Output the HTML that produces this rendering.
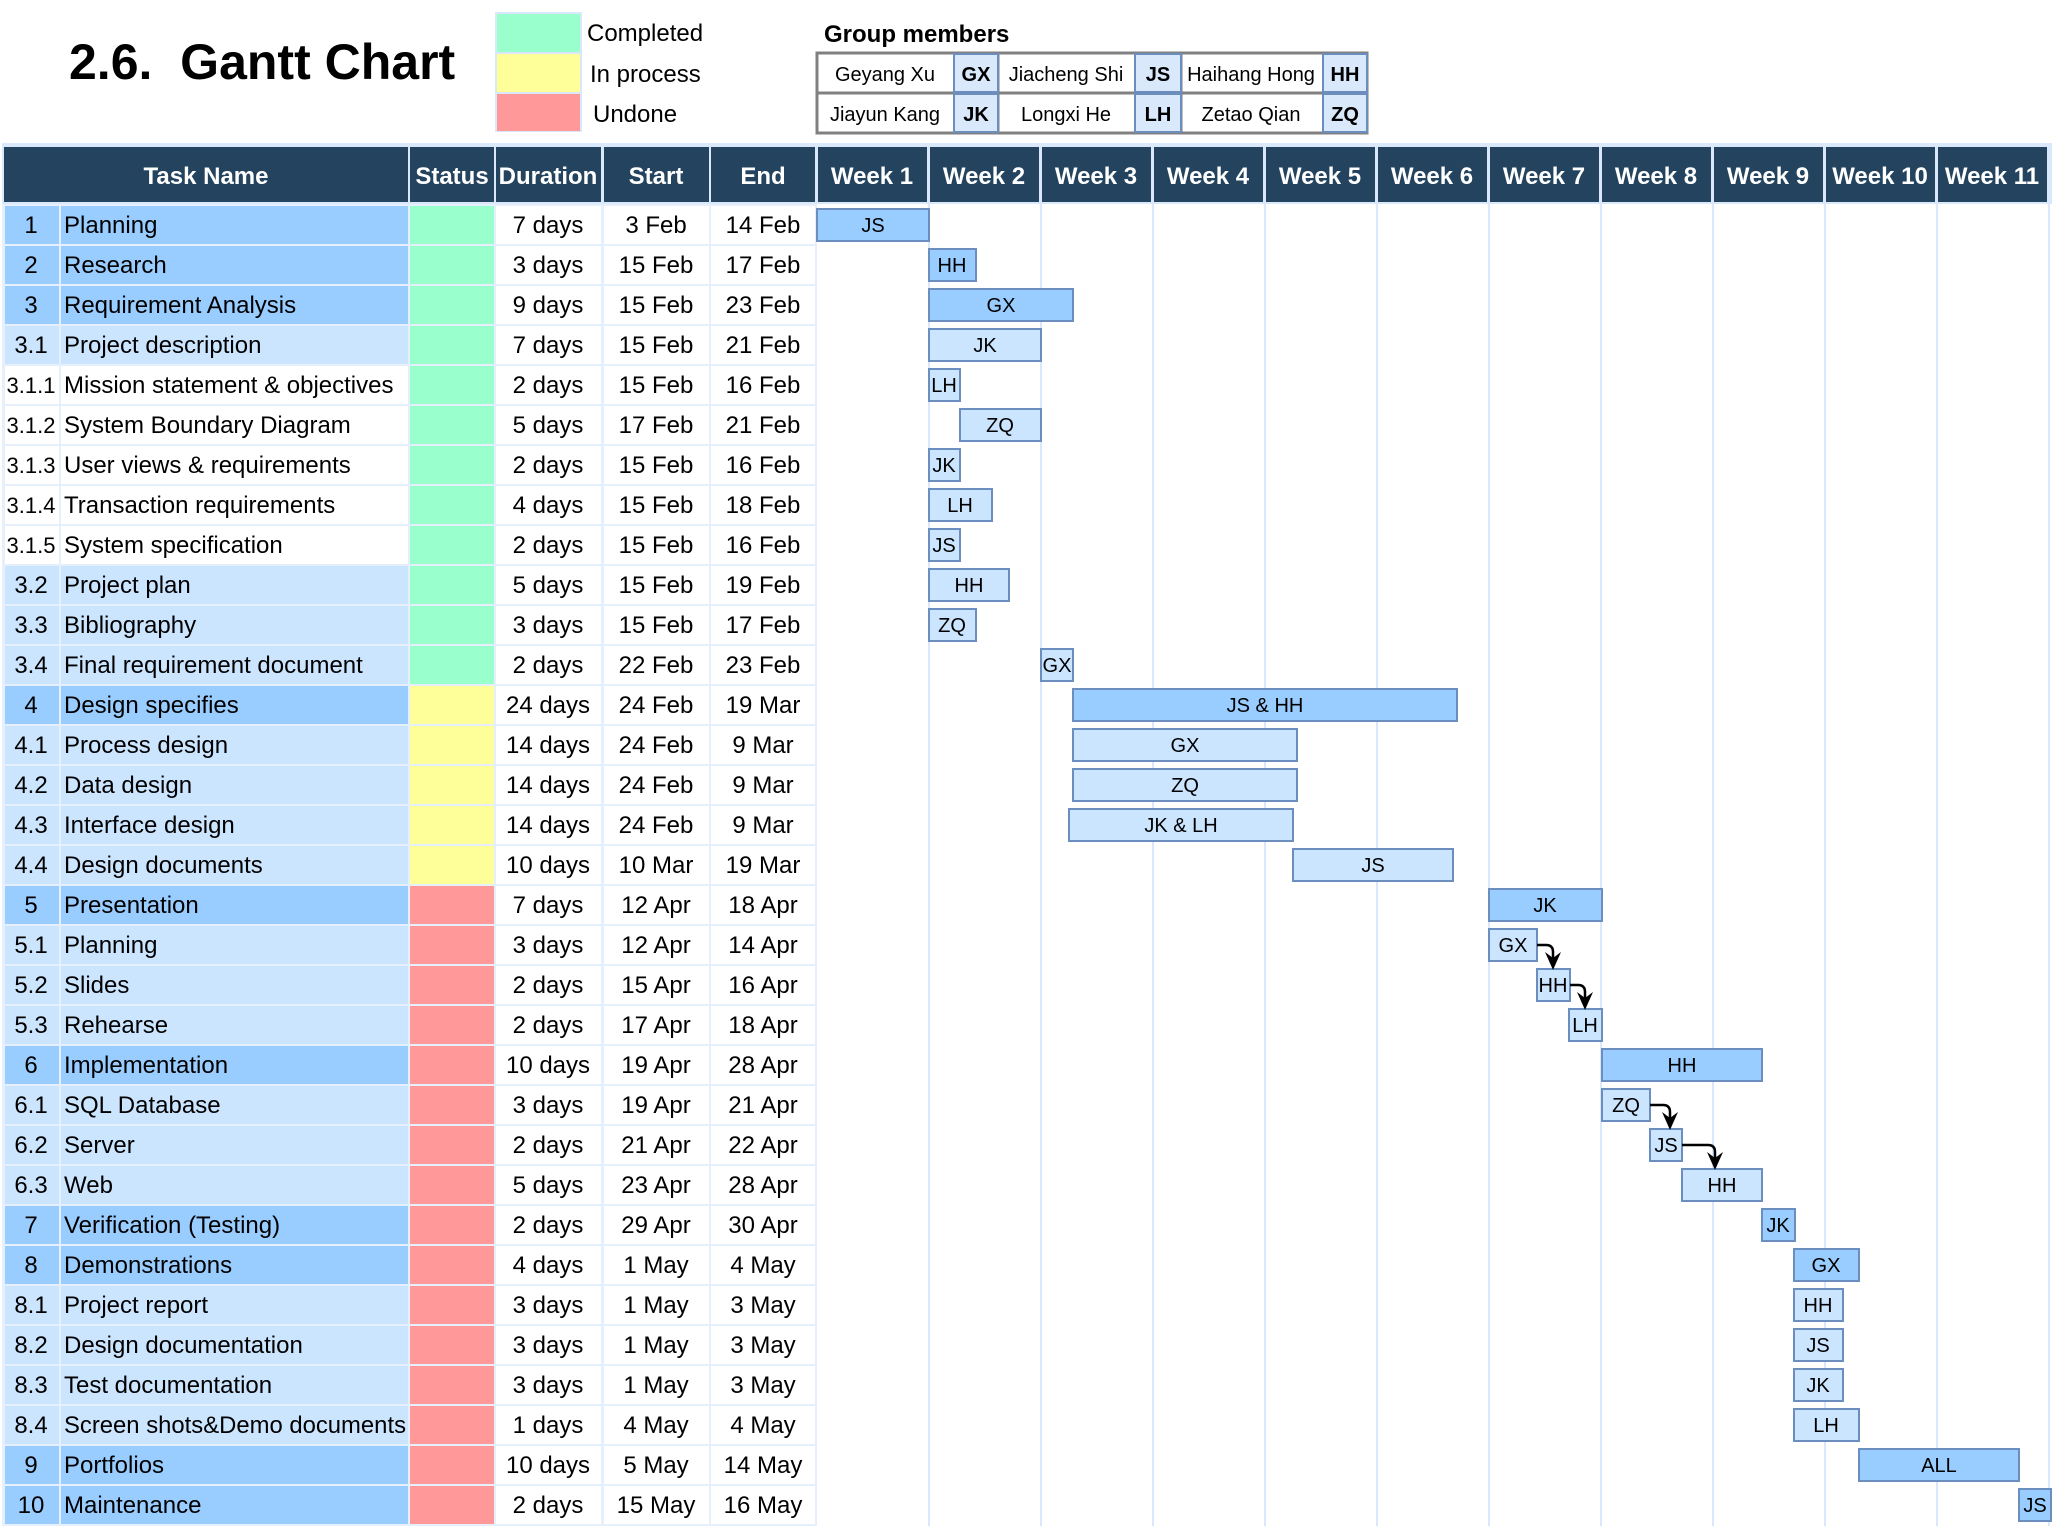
<!DOCTYPE html>
<html><head><meta charset="utf-8"><style>
html,body{margin:0;padding:0;background:#fff}
svg{display:block;font-family:"Liberation Sans",Arial,sans-serif}
.D{fill:#99ccff}.L{fill:#cce5ff}.W{fill:#fff}.g{fill:#99ffcc}.y{fill:#ffff99}.r{fill:#ff9999}
.h{fill:#23435e}
text{font-size:24px;fill:#000}
.c{text-anchor:middle}
.ht{font-weight:bold;fill:#fff;text-anchor:middle}
.bd{fill:#99ccff;stroke:#6c8ebf;stroke-width:2}
.bl{fill:#cce5ff;stroke:#6c8ebf;stroke-width:2}
.b{font-size:20px;text-anchor:middle}
.m{font-size:20px;text-anchor:middle}
.vl{stroke:#dae8fc;stroke-width:2}
</style></head><body>
<svg width="2054" height="1526" viewBox="0 0 2054 1526" xmlns="http://www.w3.org/2000/svg">

<!-- title -->
<text x="69" y="79" style="font-size:50px;font-weight:bold">2.6.&#160; Gantt Chart</text>
<!-- legend -->
<rect x="495" y="12" width="87" height="120" fill="#dae8fc"/>
<rect x="497" y="14" width="83" height="38" class="g"/>
<rect x="497" y="54" width="83" height="38" class="y"/>
<rect x="497" y="94" width="83" height="37" class="r"/>
<text x="587" y="41">Completed</text>
<text x="590" y="82">In process</text>
<text x="593" y="122">Undone</text>
<!-- group members -->
<text x="824" y="42" style="font-weight:bold">Group members</text>
<rect x="817" y="53" width="550" height="80" fill="#fff" stroke="#808080" stroke-width="3"/>
<line x1="817" y1="93" x2="1367" y2="93" stroke="#808080" stroke-width="3"/>
<line x1="998" y1="53" x2="998" y2="133" stroke="#808080" stroke-width="3"/>
<line x1="1181" y1="53" x2="1181" y2="133" stroke="#808080" stroke-width="3"/>
<rect x="954" y="54" width="44" height="38" fill="#dae8fc" stroke="#6c8ebf" stroke-width="2"/>
<rect x="954" y="94" width="44" height="38" fill="#dae8fc" stroke="#6c8ebf" stroke-width="2"/>
<rect x="1135" y="54" width="46" height="38" fill="#dae8fc" stroke="#6c8ebf" stroke-width="2"/>
<rect x="1135" y="94" width="46" height="38" fill="#dae8fc" stroke="#6c8ebf" stroke-width="2"/>
<rect x="1323" y="54" width="44" height="38" fill="#dae8fc" stroke="#6c8ebf" stroke-width="2"/>
<rect x="1323" y="94" width="44" height="38" fill="#dae8fc" stroke="#6c8ebf" stroke-width="2"/>
<text x="885" y="81" class="m">Geyang Xu</text><text x="976" y="81" class="m" style="font-weight:bold">GX</text>
<text x="1066" y="81" class="m">Jiacheng Shi</text><text x="1158" y="81" class="m" style="font-weight:bold">JS</text>
<text x="1251" y="81" class="m">Haihang Hong</text><text x="1345" y="81" class="m" style="font-weight:bold">HH</text>
<text x="885" y="121" class="m">Jiayun Kang</text><text x="976" y="121" class="m" style="font-weight:bold">JK</text>
<text x="1066" y="121" class="m">Longxi He</text><text x="1158" y="121" class="m" style="font-weight:bold">LH</text>
<text x="1251" y="121" class="m">Zetao Qian</text><text x="1345" y="121" class="m" style="font-weight:bold">ZQ</text>

<!-- table bg -->
<rect x="2" y="143" width="2050" height="1383" fill="#dae8fc"/>
<rect x="817" y="204" width="1235" height="1322" fill="#fff"/>
<rect x="2" y="204" width="815" height="1322" fill="#e6f0fc"/>
<!-- header -->
<rect x="4" y="147" width="404" height="55" class="h"/><text x="206" y="184" class="ht">Task Name</text>
<rect x="410" y="147" width="84" height="55" class="h"/><text x="452" y="184" class="ht">Status</text>
<rect x="496" y="147" width="105" height="55" class="h"/><text x="548" y="184" class="ht">Duration</text>
<rect x="604" y="147" width="105" height="55" class="h"/><text x="656" y="184" class="ht">Start</text>
<rect x="711" y="147" width="104" height="55" class="h"/><text x="763" y="184" class="ht">End</text>
<rect x="818" y="147" width="109" height="55" class="h"/><text x="872" y="184" class="ht">Week 1</text>
<rect x="930" y="147" width="109" height="55" class="h"/><text x="984" y="184" class="ht">Week 2</text>
<rect x="1042" y="147" width="109" height="55" class="h"/><text x="1096" y="184" class="ht">Week 3</text>
<rect x="1154" y="147" width="109" height="55" class="h"/><text x="1208" y="184" class="ht">Week 4</text>
<rect x="1266" y="147" width="109" height="55" class="h"/><text x="1320" y="184" class="ht">Week 5</text>
<rect x="1378" y="147" width="109" height="55" class="h"/><text x="1432" y="184" class="ht">Week 6</text>
<rect x="1490" y="147" width="109" height="55" class="h"/><text x="1544" y="184" class="ht">Week 7</text>
<rect x="1602" y="147" width="109" height="55" class="h"/><text x="1656" y="184" class="ht">Week 8</text>
<rect x="1714" y="147" width="109" height="55" class="h"/><text x="1768" y="184" class="ht">Week 9</text>
<rect x="1826" y="147" width="109" height="55" class="h"/><text x="1880" y="184" class="ht">Week 10</text>
<rect x="1938" y="147" width="109" height="55" class="h"/><text x="1992" y="184" class="ht">Week 11</text>
<!-- week grid lines -->
<g class="vl">
<line x1="929" y1="204" x2="929" y2="1526"/><line x1="1041" y1="204" x2="1041" y2="1526"/><line x1="1153" y1="204" x2="1153" y2="1526"/><line x1="1265" y1="204" x2="1265" y2="1526"/><line x1="1377" y1="204" x2="1377" y2="1526"/><line x1="1489" y1="204" x2="1489" y2="1526"/><line x1="1601" y1="204" x2="1601" y2="1526"/><line x1="1713" y1="204" x2="1713" y2="1526"/><line x1="1825" y1="204" x2="1825" y2="1526"/><line x1="1937" y1="204" x2="1937" y2="1526"/><line x1="2049" y1="204" x2="2049" y2="1526"/>
</g>

<!-- rows -->
<g transform="translate(0,205)"><rect x="5" y="1" width="54" height="38" class="D"/><rect x="61" y="1" width="347" height="38" class="D"/><rect x="410" y="1" width="84" height="38" class="g"/><rect x="496" y="1" width="105" height="38" class="W"/><rect x="604" y="1" width="105" height="38" class="W"/><rect x="711" y="1" width="104" height="38" class="W"/>
<text x="31" y="28" class="c">1</text><text x="64" y="28">Planning</text><text x="548" y="28" class="c">7 days</text><text x="656" y="28" class="c">3 Feb</text><text x="763" y="28" class="c">14 Feb</text>
<rect x="817" y="4" width="112" height="32" class="bd"/><text x="873" y="27" class="b">JS</text></g>

<g transform="translate(0,245)"><rect x="5" y="1" width="54" height="38" class="D"/><rect x="61" y="1" width="347" height="38" class="D"/><rect x="410" y="1" width="84" height="38" class="g"/><rect x="496" y="1" width="105" height="38" class="W"/><rect x="604" y="1" width="105" height="38" class="W"/><rect x="711" y="1" width="104" height="38" class="W"/>
<text x="31" y="28" class="c">2</text><text x="64" y="28">Research</text><text x="548" y="28" class="c">3 days</text><text x="656" y="28" class="c">15 Feb</text><text x="763" y="28" class="c">17 Feb</text>
<rect x="929" y="4" width="47" height="32" class="bd"/><text x="952" y="27" class="b">HH</text></g>

<g transform="translate(0,285)"><rect x="5" y="1" width="54" height="38" class="D"/><rect x="61" y="1" width="347" height="38" class="D"/><rect x="410" y="1" width="84" height="38" class="g"/><rect x="496" y="1" width="105" height="38" class="W"/><rect x="604" y="1" width="105" height="38" class="W"/><rect x="711" y="1" width="104" height="38" class="W"/>
<text x="31" y="28" class="c">3</text><text x="64" y="28">Requirement Analysis</text><text x="548" y="28" class="c">9 days</text><text x="656" y="28" class="c">15 Feb</text><text x="763" y="28" class="c">23 Feb</text>
<rect x="929" y="4" width="144" height="32" class="bd"/><text x="1001" y="27" class="b">GX</text></g>

<g transform="translate(0,325)"><rect x="5" y="1" width="54" height="38" class="L"/><rect x="61" y="1" width="347" height="38" class="L"/><rect x="410" y="1" width="84" height="38" class="g"/><rect x="496" y="1" width="105" height="38" class="W"/><rect x="604" y="1" width="105" height="38" class="W"/><rect x="711" y="1" width="104" height="38" class="W"/>
<text x="31" y="28" class="c">3.1</text><text x="64" y="28">Project description</text><text x="548" y="28" class="c">7 days</text><text x="656" y="28" class="c">15 Feb</text><text x="763" y="28" class="c">21 Feb</text>
<rect x="929" y="4" width="112" height="32" class="bl"/><text x="985" y="27" class="b">JK</text></g>

<g transform="translate(0,365)"><rect x="5" y="1" width="54" height="38" class="W"/><rect x="61" y="1" width="347" height="38" class="W"/><rect x="410" y="1" width="84" height="38" class="g"/><rect x="496" y="1" width="105" height="38" class="W"/><rect x="604" y="1" width="105" height="38" class="W"/><rect x="711" y="1" width="104" height="38" class="W"/>
<text x="31" y="28" class="c" style="font-size:22px">3.1.1</text><text x="64" y="28">Mission statement &amp; objectives</text><text x="548" y="28" class="c">2 days</text><text x="656" y="28" class="c">15 Feb</text><text x="763" y="28" class="c">16 Feb</text>
<rect x="929" y="4" width="31" height="32" class="bl"/><text x="944" y="27" class="b">LH</text></g>

<g transform="translate(0,405)"><rect x="5" y="1" width="54" height="38" class="W"/><rect x="61" y="1" width="347" height="38" class="W"/><rect x="410" y="1" width="84" height="38" class="g"/><rect x="496" y="1" width="105" height="38" class="W"/><rect x="604" y="1" width="105" height="38" class="W"/><rect x="711" y="1" width="104" height="38" class="W"/>
<text x="31" y="28" class="c" style="font-size:22px">3.1.2</text><text x="64" y="28">System Boundary Diagram</text><text x="548" y="28" class="c">5 days</text><text x="656" y="28" class="c">17 Feb</text><text x="763" y="28" class="c">21 Feb</text>
<rect x="960" y="4" width="81" height="32" class="bl"/><text x="1000" y="27" class="b">ZQ</text></g>

<g transform="translate(0,445)"><rect x="5" y="1" width="54" height="38" class="W"/><rect x="61" y="1" width="347" height="38" class="W"/><rect x="410" y="1" width="84" height="38" class="g"/><rect x="496" y="1" width="105" height="38" class="W"/><rect x="604" y="1" width="105" height="38" class="W"/><rect x="711" y="1" width="104" height="38" class="W"/>
<text x="31" y="28" class="c" style="font-size:22px">3.1.3</text><text x="64" y="28">User views &amp; requirements</text><text x="548" y="28" class="c">2 days</text><text x="656" y="28" class="c">15 Feb</text><text x="763" y="28" class="c">16 Feb</text>
<rect x="929" y="4" width="31" height="32" class="bl"/><text x="944" y="27" class="b">JK</text></g>

<g transform="translate(0,485)"><rect x="5" y="1" width="54" height="38" class="W"/><rect x="61" y="1" width="347" height="38" class="W"/><rect x="410" y="1" width="84" height="38" class="g"/><rect x="496" y="1" width="105" height="38" class="W"/><rect x="604" y="1" width="105" height="38" class="W"/><rect x="711" y="1" width="104" height="38" class="W"/>
<text x="31" y="28" class="c" style="font-size:22px">3.1.4</text><text x="64" y="28">Transaction requirements</text><text x="548" y="28" class="c">4 days</text><text x="656" y="28" class="c">15 Feb</text><text x="763" y="28" class="c">18 Feb</text>
<rect x="929" y="4" width="63" height="32" class="bl"/><text x="960" y="27" class="b">LH</text></g>

<g transform="translate(0,525)"><rect x="5" y="1" width="54" height="38" class="W"/><rect x="61" y="1" width="347" height="38" class="W"/><rect x="410" y="1" width="84" height="38" class="g"/><rect x="496" y="1" width="105" height="38" class="W"/><rect x="604" y="1" width="105" height="38" class="W"/><rect x="711" y="1" width="104" height="38" class="W"/>
<text x="31" y="28" class="c" style="font-size:22px">3.1.5</text><text x="64" y="28">System specification</text><text x="548" y="28" class="c">2 days</text><text x="656" y="28" class="c">15 Feb</text><text x="763" y="28" class="c">16 Feb</text>
<rect x="929" y="4" width="31" height="32" class="bl"/><text x="944" y="27" class="b">JS</text></g>

<g transform="translate(0,565)"><rect x="5" y="1" width="54" height="38" class="L"/><rect x="61" y="1" width="347" height="38" class="L"/><rect x="410" y="1" width="84" height="38" class="g"/><rect x="496" y="1" width="105" height="38" class="W"/><rect x="604" y="1" width="105" height="38" class="W"/><rect x="711" y="1" width="104" height="38" class="W"/>
<text x="31" y="28" class="c">3.2</text><text x="64" y="28">Project plan</text><text x="548" y="28" class="c">5 days</text><text x="656" y="28" class="c">15 Feb</text><text x="763" y="28" class="c">19 Feb</text>
<rect x="929" y="4" width="80" height="32" class="bl"/><text x="969" y="27" class="b">HH</text></g>

<g transform="translate(0,605)"><rect x="5" y="1" width="54" height="38" class="L"/><rect x="61" y="1" width="347" height="38" class="L"/><rect x="410" y="1" width="84" height="38" class="g"/><rect x="496" y="1" width="105" height="38" class="W"/><rect x="604" y="1" width="105" height="38" class="W"/><rect x="711" y="1" width="104" height="38" class="W"/>
<text x="31" y="28" class="c">3.3</text><text x="64" y="28">Bibliography</text><text x="548" y="28" class="c">3 days</text><text x="656" y="28" class="c">15 Feb</text><text x="763" y="28" class="c">17 Feb</text>
<rect x="929" y="4" width="47" height="32" class="bl"/><text x="952" y="27" class="b">ZQ</text></g>

<g transform="translate(0,645)"><rect x="5" y="1" width="54" height="38" class="L"/><rect x="61" y="1" width="347" height="38" class="L"/><rect x="410" y="1" width="84" height="38" class="g"/><rect x="496" y="1" width="105" height="38" class="W"/><rect x="604" y="1" width="105" height="38" class="W"/><rect x="711" y="1" width="104" height="38" class="W"/>
<text x="31" y="28" class="c">3.4</text><text x="64" y="28">Final requirement document</text><text x="548" y="28" class="c">2 days</text><text x="656" y="28" class="c">22 Feb</text><text x="763" y="28" class="c">23 Feb</text>
<rect x="1041" y="4" width="32" height="32" class="bl"/><text x="1057" y="27" class="b">GX</text></g>

<g transform="translate(0,685)"><rect x="5" y="1" width="54" height="38" class="D"/><rect x="61" y="1" width="347" height="38" class="D"/><rect x="410" y="1" width="84" height="38" class="y"/><rect x="496" y="1" width="105" height="38" class="W"/><rect x="604" y="1" width="105" height="38" class="W"/><rect x="711" y="1" width="104" height="38" class="W"/>
<text x="31" y="28" class="c">4</text><text x="64" y="28">Design specifies</text><text x="548" y="28" class="c">24 days</text><text x="656" y="28" class="c">24 Feb</text><text x="763" y="28" class="c">19 Mar</text>
<rect x="1073" y="4" width="384" height="32" class="bd"/><text x="1265" y="27" class="b">JS &amp; HH</text></g>

<g transform="translate(0,725)"><rect x="5" y="1" width="54" height="38" class="L"/><rect x="61" y="1" width="347" height="38" class="L"/><rect x="410" y="1" width="84" height="38" class="y"/><rect x="496" y="1" width="105" height="38" class="W"/><rect x="604" y="1" width="105" height="38" class="W"/><rect x="711" y="1" width="104" height="38" class="W"/>
<text x="31" y="28" class="c">4.1</text><text x="64" y="28">Process design</text><text x="548" y="28" class="c">14 days</text><text x="656" y="28" class="c">24 Feb</text><text x="763" y="28" class="c">9 Mar</text>
<rect x="1073" y="4" width="224" height="32" class="bl"/><text x="1185" y="27" class="b">GX</text></g>

<g transform="translate(0,765)"><rect x="5" y="1" width="54" height="38" class="L"/><rect x="61" y="1" width="347" height="38" class="L"/><rect x="410" y="1" width="84" height="38" class="y"/><rect x="496" y="1" width="105" height="38" class="W"/><rect x="604" y="1" width="105" height="38" class="W"/><rect x="711" y="1" width="104" height="38" class="W"/>
<text x="31" y="28" class="c">4.2</text><text x="64" y="28">Data design</text><text x="548" y="28" class="c">14 days</text><text x="656" y="28" class="c">24 Feb</text><text x="763" y="28" class="c">9 Mar</text>
<rect x="1073" y="4" width="224" height="32" class="bl"/><text x="1185" y="27" class="b">ZQ</text></g>

<g transform="translate(0,805)"><rect x="5" y="1" width="54" height="38" class="L"/><rect x="61" y="1" width="347" height="38" class="L"/><rect x="410" y="1" width="84" height="38" class="y"/><rect x="496" y="1" width="105" height="38" class="W"/><rect x="604" y="1" width="105" height="38" class="W"/><rect x="711" y="1" width="104" height="38" class="W"/>
<text x="31" y="28" class="c">4.3</text><text x="64" y="28">Interface design</text><text x="548" y="28" class="c">14 days</text><text x="656" y="28" class="c">24 Feb</text><text x="763" y="28" class="c">9 Mar</text>
<rect x="1069" y="4" width="224" height="32" class="bl"/><text x="1181" y="27" class="b">JK &amp; LH</text></g>

<g transform="translate(0,845)"><rect x="5" y="1" width="54" height="38" class="L"/><rect x="61" y="1" width="347" height="38" class="L"/><rect x="410" y="1" width="84" height="38" class="y"/><rect x="496" y="1" width="105" height="38" class="W"/><rect x="604" y="1" width="105" height="38" class="W"/><rect x="711" y="1" width="104" height="38" class="W"/>
<text x="31" y="28" class="c">4.4</text><text x="64" y="28">Design documents</text><text x="548" y="28" class="c">10 days</text><text x="656" y="28" class="c">10 Mar</text><text x="763" y="28" class="c">19 Mar</text>
<rect x="1293" y="4" width="160" height="32" class="bl"/><text x="1373" y="27" class="b">JS</text></g>

<g transform="translate(0,885)"><rect x="5" y="1" width="54" height="38" class="D"/><rect x="61" y="1" width="347" height="38" class="D"/><rect x="410" y="1" width="84" height="38" class="r"/><rect x="496" y="1" width="105" height="38" class="W"/><rect x="604" y="1" width="105" height="38" class="W"/><rect x="711" y="1" width="104" height="38" class="W"/>
<text x="31" y="28" class="c">5</text><text x="64" y="28">Presentation</text><text x="548" y="28" class="c">7 days</text><text x="656" y="28" class="c">12 Apr</text><text x="763" y="28" class="c">18 Apr</text>
<rect x="1489" y="4" width="113" height="32" class="bd"/><text x="1545" y="27" class="b">JK</text></g>

<g transform="translate(0,925)"><rect x="5" y="1" width="54" height="38" class="L"/><rect x="61" y="1" width="347" height="38" class="L"/><rect x="410" y="1" width="84" height="38" class="r"/><rect x="496" y="1" width="105" height="38" class="W"/><rect x="604" y="1" width="105" height="38" class="W"/><rect x="711" y="1" width="104" height="38" class="W"/>
<text x="31" y="28" class="c">5.1</text><text x="64" y="28">Planning</text><text x="548" y="28" class="c">3 days</text><text x="656" y="28" class="c">12 Apr</text><text x="763" y="28" class="c">14 Apr</text>
<rect x="1489" y="4" width="48" height="32" class="bl"/><text x="1513" y="27" class="b">GX</text></g>

<g transform="translate(0,965)"><rect x="5" y="1" width="54" height="38" class="L"/><rect x="61" y="1" width="347" height="38" class="L"/><rect x="410" y="1" width="84" height="38" class="r"/><rect x="496" y="1" width="105" height="38" class="W"/><rect x="604" y="1" width="105" height="38" class="W"/><rect x="711" y="1" width="104" height="38" class="W"/>
<text x="31" y="28" class="c">5.2</text><text x="64" y="28">Slides</text><text x="548" y="28" class="c">2 days</text><text x="656" y="28" class="c">15 Apr</text><text x="763" y="28" class="c">16 Apr</text>
<rect x="1537" y="4" width="33" height="32" class="bl"/><text x="1553" y="27" class="b">HH</text></g>

<g transform="translate(0,1005)"><rect x="5" y="1" width="54" height="38" class="L"/><rect x="61" y="1" width="347" height="38" class="L"/><rect x="410" y="1" width="84" height="38" class="r"/><rect x="496" y="1" width="105" height="38" class="W"/><rect x="604" y="1" width="105" height="38" class="W"/><rect x="711" y="1" width="104" height="38" class="W"/>
<text x="31" y="28" class="c">5.3</text><text x="64" y="28">Rehearse</text><text x="548" y="28" class="c">2 days</text><text x="656" y="28" class="c">17 Apr</text><text x="763" y="28" class="c">18 Apr</text>
<rect x="1569" y="4" width="33" height="32" class="bl"/><text x="1585" y="27" class="b">LH</text></g>

<g transform="translate(0,1045)"><rect x="5" y="1" width="54" height="38" class="D"/><rect x="61" y="1" width="347" height="38" class="D"/><rect x="410" y="1" width="84" height="38" class="r"/><rect x="496" y="1" width="105" height="38" class="W"/><rect x="604" y="1" width="105" height="38" class="W"/><rect x="711" y="1" width="104" height="38" class="W"/>
<text x="31" y="28" class="c">6</text><text x="64" y="28">Implementation</text><text x="548" y="28" class="c">10 days</text><text x="656" y="28" class="c">19 Apr</text><text x="763" y="28" class="c">28 Apr</text>
<rect x="1602" y="4" width="160" height="32" class="bd"/><text x="1682" y="27" class="b">HH</text></g>

<g transform="translate(0,1085)"><rect x="5" y="1" width="54" height="38" class="L"/><rect x="61" y="1" width="347" height="38" class="L"/><rect x="410" y="1" width="84" height="38" class="r"/><rect x="496" y="1" width="105" height="38" class="W"/><rect x="604" y="1" width="105" height="38" class="W"/><rect x="711" y="1" width="104" height="38" class="W"/>
<text x="31" y="28" class="c">6.1</text><text x="64" y="28">SQL Database</text><text x="548" y="28" class="c">3 days</text><text x="656" y="28" class="c">19 Apr</text><text x="763" y="28" class="c">21 Apr</text>
<rect x="1602" y="4" width="48" height="32" class="bl"/><text x="1626" y="27" class="b">ZQ</text></g>

<g transform="translate(0,1125)"><rect x="5" y="1" width="54" height="38" class="L"/><rect x="61" y="1" width="347" height="38" class="L"/><rect x="410" y="1" width="84" height="38" class="r"/><rect x="496" y="1" width="105" height="38" class="W"/><rect x="604" y="1" width="105" height="38" class="W"/><rect x="711" y="1" width="104" height="38" class="W"/>
<text x="31" y="28" class="c">6.2</text><text x="64" y="28">Server</text><text x="548" y="28" class="c">2 days</text><text x="656" y="28" class="c">21 Apr</text><text x="763" y="28" class="c">22 Apr</text>
<rect x="1650" y="4" width="32" height="32" class="bl"/><text x="1666" y="27" class="b">JS</text></g>

<g transform="translate(0,1165)"><rect x="5" y="1" width="54" height="38" class="L"/><rect x="61" y="1" width="347" height="38" class="L"/><rect x="410" y="1" width="84" height="38" class="r"/><rect x="496" y="1" width="105" height="38" class="W"/><rect x="604" y="1" width="105" height="38" class="W"/><rect x="711" y="1" width="104" height="38" class="W"/>
<text x="31" y="28" class="c">6.3</text><text x="64" y="28">Web</text><text x="548" y="28" class="c">5 days</text><text x="656" y="28" class="c">23 Apr</text><text x="763" y="28" class="c">28 Apr</text>
<rect x="1682" y="4" width="80" height="32" class="bl"/><text x="1722" y="27" class="b">HH</text></g>

<g transform="translate(0,1205)"><rect x="5" y="1" width="54" height="38" class="D"/><rect x="61" y="1" width="347" height="38" class="D"/><rect x="410" y="1" width="84" height="38" class="r"/><rect x="496" y="1" width="105" height="38" class="W"/><rect x="604" y="1" width="105" height="38" class="W"/><rect x="711" y="1" width="104" height="38" class="W"/>
<text x="31" y="28" class="c">7</text><text x="64" y="28">Verification (Testing)</text><text x="548" y="28" class="c">2 days</text><text x="656" y="28" class="c">29 Apr</text><text x="763" y="28" class="c">30 Apr</text>
<rect x="1762" y="4" width="33" height="32" class="bd"/><text x="1778" y="27" class="b">JK</text></g>

<g transform="translate(0,1245)"><rect x="5" y="1" width="54" height="38" class="D"/><rect x="61" y="1" width="347" height="38" class="D"/><rect x="410" y="1" width="84" height="38" class="r"/><rect x="496" y="1" width="105" height="38" class="W"/><rect x="604" y="1" width="105" height="38" class="W"/><rect x="711" y="1" width="104" height="38" class="W"/>
<text x="31" y="28" class="c">8</text><text x="64" y="28">Demonstrations</text><text x="548" y="28" class="c">4 days</text><text x="656" y="28" class="c">1 May</text><text x="763" y="28" class="c">4 May</text>
<rect x="1794" y="4" width="65" height="32" class="bd"/><text x="1826" y="27" class="b">GX</text></g>

<g transform="translate(0,1285)"><rect x="5" y="1" width="54" height="38" class="L"/><rect x="61" y="1" width="347" height="38" class="L"/><rect x="410" y="1" width="84" height="38" class="r"/><rect x="496" y="1" width="105" height="38" class="W"/><rect x="604" y="1" width="105" height="38" class="W"/><rect x="711" y="1" width="104" height="38" class="W"/>
<text x="31" y="28" class="c">8.1</text><text x="64" y="28">Project report</text><text x="548" y="28" class="c">3 days</text><text x="656" y="28" class="c">1 May</text><text x="763" y="28" class="c">3 May</text>
<rect x="1794" y="4" width="49" height="32" class="bl"/><text x="1818" y="27" class="b">HH</text></g>

<g transform="translate(0,1325)"><rect x="5" y="1" width="54" height="38" class="L"/><rect x="61" y="1" width="347" height="38" class="L"/><rect x="410" y="1" width="84" height="38" class="r"/><rect x="496" y="1" width="105" height="38" class="W"/><rect x="604" y="1" width="105" height="38" class="W"/><rect x="711" y="1" width="104" height="38" class="W"/>
<text x="31" y="28" class="c">8.2</text><text x="64" y="28">Design documentation</text><text x="548" y="28" class="c">3 days</text><text x="656" y="28" class="c">1 May</text><text x="763" y="28" class="c">3 May</text>
<rect x="1794" y="4" width="49" height="32" class="bl"/><text x="1818" y="27" class="b">JS</text></g>

<g transform="translate(0,1365)"><rect x="5" y="1" width="54" height="38" class="L"/><rect x="61" y="1" width="347" height="38" class="L"/><rect x="410" y="1" width="84" height="38" class="r"/><rect x="496" y="1" width="105" height="38" class="W"/><rect x="604" y="1" width="105" height="38" class="W"/><rect x="711" y="1" width="104" height="38" class="W"/>
<text x="31" y="28" class="c">8.3</text><text x="64" y="28">Test documentation</text><text x="548" y="28" class="c">3 days</text><text x="656" y="28" class="c">1 May</text><text x="763" y="28" class="c">3 May</text>
<rect x="1794" y="4" width="49" height="32" class="bl"/><text x="1818" y="27" class="b">JK</text></g>

<g transform="translate(0,1405)"><rect x="5" y="1" width="54" height="38" class="L"/><rect x="61" y="1" width="347" height="38" class="L"/><rect x="410" y="1" width="84" height="38" class="r"/><rect x="496" y="1" width="105" height="38" class="W"/><rect x="604" y="1" width="105" height="38" class="W"/><rect x="711" y="1" width="104" height="38" class="W"/>
<text x="31" y="28" class="c">8.4</text><text x="64" y="28" textLength="342" lengthAdjust="spacingAndGlyphs">Screen shots&amp;Demo documents</text><text x="548" y="28" class="c">1 days</text><text x="656" y="28" class="c">4 May</text><text x="763" y="28" class="c">4 May</text>
<rect x="1794" y="4" width="65" height="32" class="bl"/><text x="1826" y="27" class="b">LH</text></g>

<g transform="translate(0,1445)"><rect x="5" y="1" width="54" height="38" class="D"/><rect x="61" y="1" width="347" height="38" class="D"/><rect x="410" y="1" width="84" height="38" class="r"/><rect x="496" y="1" width="105" height="38" class="W"/><rect x="604" y="1" width="105" height="38" class="W"/><rect x="711" y="1" width="104" height="38" class="W"/>
<text x="31" y="28" class="c">9</text><text x="64" y="28">Portfolios</text><text x="548" y="28" class="c">10 days</text><text x="656" y="28" class="c">5 May</text><text x="763" y="28" class="c">14 May</text>
<rect x="1859" y="4" width="160" height="32" class="bd"/><text x="1939" y="27" class="b">ALL</text></g>

<g transform="translate(0,1485)"><rect x="5" y="1" width="54" height="38" class="D"/><rect x="61" y="1" width="347" height="38" class="D"/><rect x="410" y="1" width="84" height="38" class="r"/><rect x="496" y="1" width="105" height="38" class="W"/><rect x="604" y="1" width="105" height="38" class="W"/><rect x="711" y="1" width="104" height="38" class="W"/>
<text x="31" y="28" class="c">10</text><text x="64" y="28">Maintenance</text><text x="548" y="28" class="c">2 days</text><text x="656" y="28" class="c">15 May</text><text x="763" y="28" class="c">16 May</text>
<rect x="2019" y="4" width="32" height="32" class="bd"/><text x="2035" y="27" class="b">JS</text></g>

<!-- dependency arrows -->
<g fill="none" stroke="#000" stroke-width="2.5">
<path d="M1537 945 L1546 945 Q1553 945 1553 952 L1553 962"/>
<path d="M1570 985 L1578 985 Q1585 985 1585 992 L1585 1002"/>
<path d="M1650 1105 L1663 1105 Q1670 1105 1670 1112 L1670 1122"/>
<path d="M1682 1145 L1708 1145 Q1715 1145 1715 1152 L1715 1162"/>
</g>
<g fill="#000">
<polygon points="1545,952 1553,958 1561,952 1553,970"/>
<polygon points="1577,992 1585,998 1593,992 1585,1010"/>
<polygon points="1662,1112 1670,1118 1678,1112 1670,1130"/>
<polygon points="1707,1152 1715,1158 1723,1152 1715,1170"/>
</g>
</svg>
</body></html>
